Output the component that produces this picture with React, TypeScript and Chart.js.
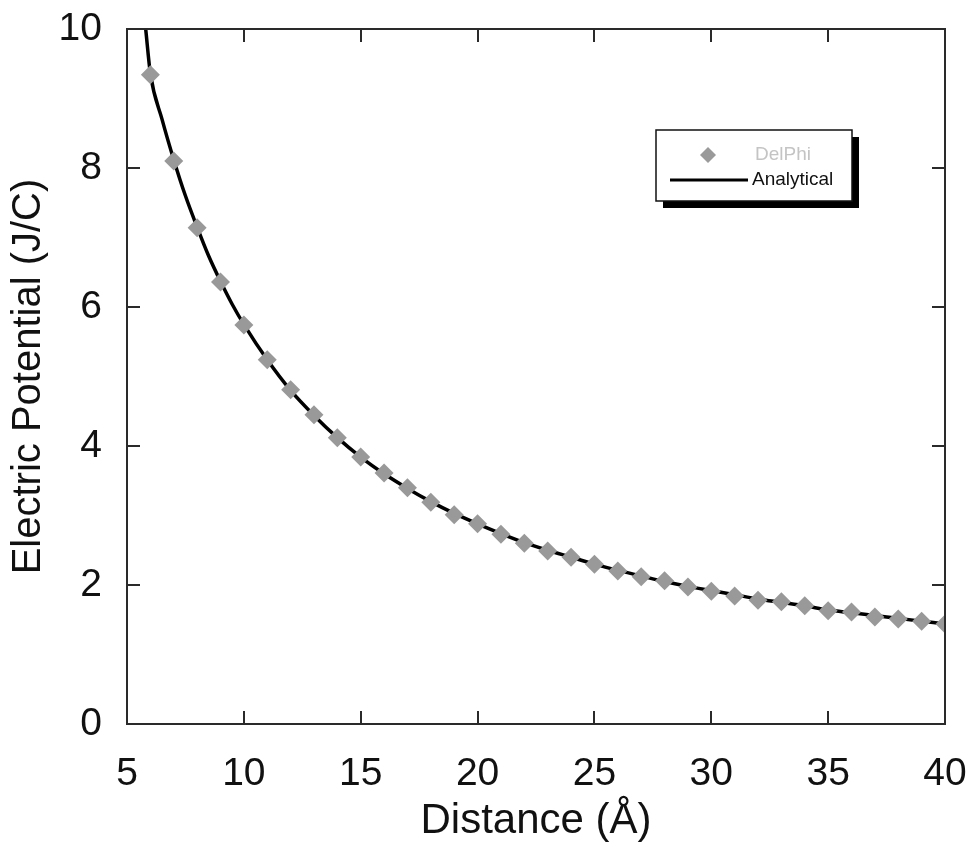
import React, { useEffect, useRef } from "react";
import { Chart, registerables } from "chart.js";

Chart.register(...registerables);

const delphiX = [6, 7, 8, 9, 10, 11, 12, 13, 14, 15, 16, 17, 18, 19, 20, 21, 22, 23, 24, 25, 26, 27, 28, 29, 30, 31, 32, 33, 34, 35, 36, 37, 38, 39, 40];
const delphiY = [9.34, 8.1, 7.14, 6.36, 5.74, 5.24, 4.81, 4.45, 4.12, 3.84, 3.61, 3.4, 3.19, 3.01, 2.88, 2.73, 2.6, 2.49, 2.4, 2.3, 2.2, 2.12, 2.06, 1.97, 1.91, 1.84, 1.78, 1.76, 1.7, 1.63, 1.61, 1.54, 1.51, 1.48, 1.44];

const analyticX = [5.8, 6, 6.5, 7, 7.5, 8, 8.5, 9, 9.5, 10, 11, 12, 13, 14, 15, 16, 17, 18, 19, 20, 21, 22, 23, 24, 25, 26, 27, 28, 29, 30, 31, 32, 33, 34, 35, 36, 37, 38, 39, 40];
const analyticY = [10.0, 9.36, 8.7, 8.12, 7.6, 7.15, 6.73, 6.37, 6.04, 5.75, 5.24, 4.8, 4.44, 4.12, 3.84, 3.6, 3.39, 3.2, 3.03, 2.88, 2.74, 2.61, 2.5, 2.4, 2.3, 2.21, 2.13, 2.05, 1.98, 1.92, 1.86, 1.8, 1.75, 1.7, 1.64, 1.6, 1.56, 1.52, 1.48, 1.44];

const xTicks = [5, 10, 15, 20, 25, 30, 35, 40];
const yTicks = [0, 2, 4, 6, 8, 10];

const seriesNames = ["DelPhi", "Analytical"];
const axisTitles = { x: "Distance (Å)", y: "Electric Potential (J/C)" };

const FONT = "'Liberation Sans', Arial, sans-serif";

const framePlugin = {
  id: "frameTicks",
  afterDatasetsDraw(chart: any) {
    const { ctx, chartArea: a, scales } = chart;
    const tl = 13;
    ctx.save();
    ctx.strokeStyle = "#2a2a2a";
    ctx.lineWidth = 2;
    ctx.strokeRect(a.left, a.top, a.right - a.left, a.bottom - a.top);
    ctx.beginPath();
    for (const v of xTicks) {
      const px = Math.round(scales.x.getPixelForValue(v));
      ctx.moveTo(px, a.bottom);
      ctx.lineTo(px, a.bottom - tl);
      ctx.moveTo(px, a.top);
      ctx.lineTo(px, a.top + tl);
    }
    for (const v of yTicks) {
      const py = Math.round(scales.y.getPixelForValue(v));
      ctx.moveTo(a.left, py);
      ctx.lineTo(a.left + tl, py);
      ctx.moveTo(a.right, py);
      ctx.lineTo(a.right - tl, py);
    }
    ctx.stroke();
    ctx.restore();
  },
};

const legendPlugin = {
  id: "boxLegend",
  afterDraw(chart: any) {
    const { ctx } = chart;
    const x0 = 656, y0 = 130, w = 196, h = 71, sh = 7;
    ctx.save();
    ctx.fillStyle = "#000";
    ctx.fillRect(x0 + sh, y0 + sh, w, h);
    ctx.fillStyle = "#fff";
    ctx.fillRect(x0, y0, w, h);
    ctx.strokeStyle = "#111";
    ctx.lineWidth = 1.5;
    ctx.strokeRect(x0, y0, w, h);
    const mx = 708, my = 155, r = 8;
    ctx.fillStyle = "#9a9a9a";
    ctx.beginPath();
    ctx.moveTo(mx, my - r);
    ctx.lineTo(mx + r, my);
    ctx.lineTo(mx, my + r);
    ctx.lineTo(mx - r, my);
    ctx.closePath();
    ctx.fill();
    ctx.strokeStyle = "#000";
    ctx.lineWidth = 3;
    ctx.beginPath();
    ctx.moveTo(670, 180);
    ctx.lineTo(748, 180);
    ctx.stroke();
    ctx.font = `19px ${FONT}`;
    ctx.textBaseline = "middle";
    ctx.textAlign = "left";
    ctx.fillStyle = "#c4c4c4";
    ctx.fillText(seriesNames[0], 755, 155);
    ctx.fillStyle = "#111";
    ctx.fillText(seriesNames[1], 752, 180);
    ctx.restore();
  },
};

function zeroPad(s: any) {
  s.paddingTop = 0;
  s.paddingBottom = 0;
  s.paddingLeft = 0;
  s.paddingRight = 0;
}

export default function App() {
  const ref = useRef<HTMLCanvasElement | null>(null);
  useEffect(() => {
    document.body.style.margin = "0";
    document.body.style.background = "#fff";
    if (!ref.current) return;
    const chart = new Chart(ref.current, {
      type: "scatter",
      data: {
        datasets: [
          {
            label: seriesNames[0],
            data: delphiX.map((x, i) => ({ x, y: delphiY[i] })),
            pointStyle: "rectRot",
            pointRadius: 9.5,
            pointBackgroundColor: "#999999",
            pointBorderWidth: 0,
            showLine: false,
          },
          {
            label: seriesNames[1],
            data: analyticX.map((x, i) => ({ x, y: analyticY[i] })),
            showLine: true,
            borderColor: "#000",
            borderWidth: 3.5,
            pointRadius: 0,
            cubicInterpolationMode: "monotone",
          },
        ],
      },
      options: {
        animation: false,
        responsive: false,
        devicePixelRatio: 1,
        layout: { padding: { top: 29, right: 29, left: 0, bottom: 0 } },
        plugins: { legend: { display: false }, tooltip: { enabled: false } },
        scales: {
          x: {
            type: "linear",
            min: 5,
            max: 40,
            afterBuildTicks: (s: any) => {
              s.ticks = xTicks.map((v) => ({ value: v }));
            },
            afterFit: (s: any) => {
              s.height = 123;
              zeroPad(s);
            },
            grid: { display: false, drawTicks: false },
            border: { display: false },
            ticks: { font: { size: 39, family: FONT }, color: "#111", padding: 27, maxRotation: 0, autoSkip: false },
            title: {
              display: true,
              text: axisTitles.x,
              font: { size: 42, family: FONT, lineHeight: 1.2 },
              color: "#111",
              padding: { top: 0, bottom: 0 },
            },
          },
          y: {
            type: "linear",
            min: 0,
            max: 10,
            afterBuildTicks: (s: any) => {
              s.ticks = yTicks.map((v) => ({ value: v }));
            },
            afterFit: (s: any) => {
              s.width = 127;
              zeroPad(s);
            },
            grid: { display: false, drawTicks: false },
            border: { display: false },
            ticks: { font: { size: 39, family: FONT }, color: "#111", padding: 25, autoSkip: false },
            title: {
              display: true,
              text: axisTitles.y,
              font: { size: 40, family: FONT, lineHeight: 1.2 },
              color: "#111",
              padding: { top: 5, bottom: 0 },
            },
          },
        },
      },
      plugins: [framePlugin, legendPlugin],
    } as any);
    return () => chart.destroy();
  }, []);
  return (
    <div style={{ width: 974, height: 847, background: "#fff" }}>
      <canvas ref={ref} width={974} height={847} style={{ display: "block" }} />
    </div>
  );
}
